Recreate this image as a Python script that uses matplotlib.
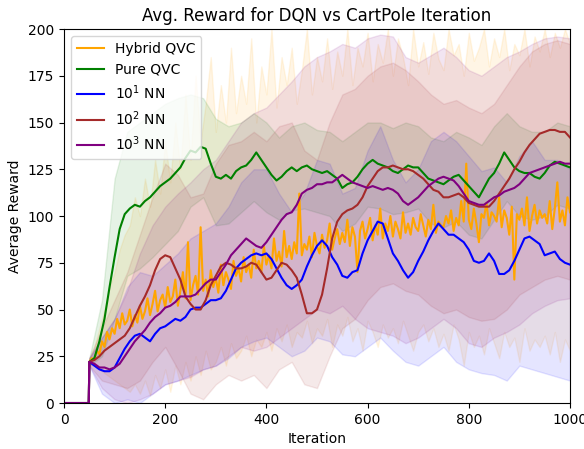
import numpy as np
import matplotlib
matplotlib.use("Agg")
import matplotlib.pyplot as plt

# iteration grids
it_start = [0, 49]
it10 = list(range(50, 1001, 10))
it5 = list(range(50, 1001, 5))
it25 = list(range(50, 1001, 25))

labels = ["Hybrid QVC", "Pure QVC", r"$10^1$ NN", r"$10^2$ NN", r"$10^3$ NN"]
colors = ["orange", "green", "blue", "brown", "purple"]

# Hybrid QVC, every 5 iterations
hybrid = [22, 24, 23, 28, 26, 33, 30, 38, 34, 40,
          37, 45, 40, 48, 42, 44, 50, 41, 47, 43,
          52, 45, 49, 56, 47, 53, 60, 49, 55, 58,
          51, 62, 54, 57, 66, 52, 60, 70, 56, 86,
          55, 63, 68, 58, 94, 60, 66, 57, 71, 62,
          67, 59, 74, 63, 70, 66, 61, 76, 68, 72,
          65, 78, 70, 74, 67, 82, 72, 76, 70, 84,
          74, 79, 72, 88, 76, 81, 73, 92, 78, 84,
          77, 86, 80, 112, 79, 85, 82, 89, 78, 91,
          84, 80, 90, 83, 87, 96, 82, 88, 93, 85,
          91, 86, 98, 84, 94, 89, 70, 92, 97, 88,
          93, 99, 87, 95, 90, 104, 88, 96, 92, 100,
          89, 97, 93, 88, 102, 91, 96, 90, 99, 94,
          92, 101, 95, 89, 98, 93, 106, 91, 97, 95,
          94, 100, 96, 103, 92, 99, 95, 108, 97, 128,
          98, 93, 104, 96, 86, 101, 99, 107, 95, 102,
          100, 97, 110, 94, 103, 99, 90, 105, 66, 101,
          98, 104, 95, 110, 92, 100, 106, 96, 103, 99,
          101, 96, 108, 93, 104, 118, 97, 103, 95, 110,
          102]
hybrid_hi = [24, 30, 40, 50, 62, 70, 82, 90, 95, 110,
             100, 120, 105, 130, 112, 140, 118, 150, 125, 165,
             130, 175, 140, 160, 185, 145, 170, 150, 190, 155,
             175, 160, 195, 150, 180, 165, 200, 158, 185, 170,
             190, 160, 178, 200, 165, 185, 172, 195, 168, 188,
             175, 200, 170, 190, 180, 198, 172, 192, 182, 200,
             175, 195, 185, 170, 200, 180, 193, 176, 198, 184,
             178, 200, 186, 192, 175, 198, 183, 190, 200, 180,
             195, 185, 200, 178, 192, 186, 200, 180, 196, 188,
             200, 185, 198, 190, 200, 192]
hybrid_lo = [20, 20, 18, 16, 14, 12, 10, 8, 6, 10,
             5, 12, 4, 15, 8, 18, 6, 20, 10, 22,
             12, 25, 15, 28, 18, 22, 30, 20, 32, 24,
             28, 36, 25, 34, 30, 38, 28, 40, 33, 42,
             30, 38, 35, 44, 32, 40, 36, 45, 30, 42,
             36, 46, 33, 40, 28, 44, 38, 30, 42, 35,
             40, 32, 44, 36, 28, 38, 42, 33, 40, 30,
             37, 28, 42, 34, 20, 38, 30, 36, 26, 40,
             32, 24, 38, 30, 35, 22, 40, 28, 34, 30,
             36, 26, 38, 22, 34, 28]

# other series, every 10 iterations
pure = [22, 24, 33, 45, 62, 78, 93, 101, 104, 106,
        105, 108, 110, 113, 116, 118, 120, 123, 126, 131,
        135, 134, 137, 136, 128, 121, 120, 122, 120, 124,
        126, 127, 130, 134, 130, 126, 122, 119, 121, 124,
        126, 124, 126, 127, 125, 124, 123, 124, 122, 120,
        115, 117, 118, 121, 125, 128, 130, 128, 127, 126,
        124, 123, 125, 127, 126, 126, 123, 120, 119, 118,
        117, 119, 121, 122, 119, 116, 113, 110, 115, 120,
        123, 128, 134, 130, 126, 124, 123, 123, 121, 120,
        123, 127, 129, 128, 127, 126]
nn1 = [22, 20, 18, 17, 17, 19, 24, 29, 33, 36,
       37, 35, 33, 37, 40, 41, 43, 45, 44, 46,
       50, 51, 51, 53, 55, 55, 56, 60, 66, 72,
       75, 77, 79, 80, 79, 80, 77, 72, 67, 63,
       61, 63, 66, 73, 79, 84, 87, 84, 78, 74,
       68, 67, 70, 71, 80, 87, 92, 97, 96, 88,
       80, 76, 71, 67, 70, 76, 81, 87, 92, 96,
       93, 90, 90, 88, 86, 82, 76, 75, 76, 80,
       76, 69, 69, 71, 76, 82, 88, 89, 87, 85,
       79, 80, 81, 77, 75, 74]
nn2 = [22, 23, 25, 28, 30, 32, 34, 36, 40, 46,
       52, 57, 63, 71, 77, 79, 78, 72, 66, 57,
       53, 50, 50, 55, 63, 68, 73, 75, 74, 72,
       72, 73, 75, 74, 70, 66, 67, 71, 75, 74,
       71, 67, 58, 48, 48, 50, 58, 72, 88, 97,
       101, 103, 104, 106, 110, 116, 120, 124, 126, 126,
       127, 126, 125, 125, 124, 122, 120, 117, 114, 113,
       110, 110, 111, 112, 110, 107, 106, 105, 105, 105,
       108, 112, 116, 120, 125, 129, 134, 138, 141, 144,
       145, 146, 146, 145, 145, 142]
nn3 = [22, 21, 19, 19, 18, 19, 21, 25, 29, 33,
       36, 39, 43, 46, 48, 51, 52, 54, 57, 57,
       57, 58, 61, 64, 66, 66, 70, 74, 79, 82,
       85, 88, 86, 84, 83, 86, 90, 94, 98, 101,
       102, 106, 112, 114, 115, 117, 117, 118, 118, 120,
       122, 120, 118, 117, 116, 115, 116, 115, 114, 115,
       114, 112, 108, 106, 108, 110, 113, 116, 118, 120,
       121, 120, 119, 116, 112, 108, 107, 106, 106, 108,
       110, 111, 113, 114, 115, 117, 120, 123, 124, 125,
       126, 127, 128, 129, 128, 128]

# spread bands, every 25 iterations
pure_hi = [24, 55, 120, 145, 150, 155, 160, 163, 165, 163, 152, 148, 150, 155, 150, 142, 148, 150, 146, 145,
           140, 145, 150, 150, 147, 150, 148, 142, 140, 145, 142, 138, 148, 155, 148, 145, 145, 150, 148]
pure_lo = [20, 25, 45, 68, 72, 78, 85, 92, 105, 110, 95, 96, 102, 108, 102, 98, 103, 104, 102, 100,
           92, 96, 105, 104, 101, 102, 104, 96, 94, 97, 90, 88, 98, 108, 100, 98, 100, 106, 104]
nn1_hi = [24, 35, 45, 62, 70, 68, 74, 80, 88, 92, 96, 105, 118, 125, 125, 112, 102, 112, 130, 128,
          112, 115, 135, 148, 130, 118, 125, 140, 145, 140, 132, 124, 126, 118, 132, 140, 130, 130, 125]
nn1_lo = [20, 5, 0, 2, 0, 5, 10, 12, 15, 18, 20, 24, 30, 33, 35, 30, 25, 28, 35, 33,
          26, 25, 30, 35, 28, 22, 20, 25, 30, 22, 18, 16, 15, 12, 20, 18, 16, 14, 12]
nn2_hi = [24, 40, 55, 70, 90, 110, 128, 122, 110, 112, 128, 138, 140, 145, 140, 148, 150, 135, 130, 150,
          165, 168, 175, 180, 182, 178, 172, 165, 160, 162, 158, 155, 160, 170, 180, 188, 192, 194, 192]
nn2_lo = [20, 12, 10, 8, 12, 22, 30, 18, 5, 2, 10, 15, 12, 15, 8, 18, 22, 10, 8, 25,
          40, 45, 55, 62, 64, 60, 58, 52, 48, 50, 46, 44, 45, 50, 58, 62, 66, 68, 66]
nn3_hi = [24, 35, 45, 60, 80, 95, 105, 112, 118, 125, 130, 140, 150, 155, 158, 165, 172, 180, 185, 188,
          192, 190, 195, 197, 196, 185, 182, 186, 190, 185, 178, 175, 180, 185, 188, 192, 195, 196, 195]
nn3_lo = [20, 8, 2, 0, 2, 5, 10, 12, 14, 18, 20, 25, 30, 28, 30, 35, 40, 45, 50, 48,
          52, 45, 40, 38, 36, 32, 35, 40, 45, 40, 32, 30, 35, 38, 42, 48, 52, 55, 56]

fig = plt.figure(figsize=(5.84, 4.49), dpi=100)
ax = fig.add_axes([0.1096, 0.1024, 0.8664, 0.833])

# bands (edges kept, like the default fill_between)
ax.fill_between(it10, hybrid_lo, hybrid_hi, color="orange", alpha=0.1)
ax.fill_between(it25, pure_lo, pure_hi, color="green", alpha=0.1)
ax.fill_between(it25, nn1_lo, nn1_hi, color="blue", alpha=0.1)
ax.fill_between(it25, nn2_lo, nn2_hi, color="brown", alpha=0.1)
ax.fill_between(it25, nn3_lo, nn3_hi, color="purple", alpha=0.1)

# lines
series = [(it5, hybrid), (it10, pure), (it10, nn1), (it10, nn2), (it10, nn3)]
for (xs, ys), lab, col in zip(series, labels, colors):
    ax.plot(it_start + xs, [0, 0] + ys, color=col, linewidth=1.5, label=lab)

ax.set_xlim(0, 1000)
ax.set_ylim(0, 200)
ax.set_xticks([0, 200, 400, 600, 800, 1000])
ax.set_yticks([0, 25, 50, 75, 100, 125, 150, 175, 200])
ax.set_title("Avg. Reward for DQN vs CartPole Iteration")
ax.set_xlabel("Iteration")
ax.set_ylabel("Average Reward")
ax.legend(loc="upper left")

fig.savefig("out.png", dpi=100)
